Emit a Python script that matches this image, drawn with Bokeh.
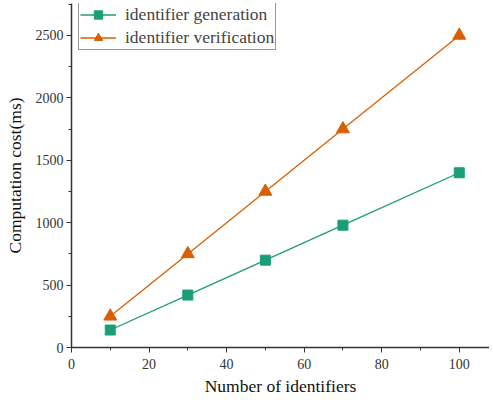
from bokeh.plotting import figure
from bokeh.models import SingleIntervalTicker, Range1d
from bokeh.embed import file_html
from bokeh.resources import INLINE

x_vals = [10, 30, 50, 70, 100]
gen_vals = [140, 420, 700, 980, 1400]
ver_vals = [250, 750, 1250, 1750, 2500]
gen_label = "identifier generation"
ver_label = "identifier verification"
x_title = "Number of identifiers"
y_title = "Computation cost(ms)"

GREEN = "#1b9e77"
ORANGE = "#d95f02"
FONT = "Liberation Serif"

FH = 344
p = figure(frame_width=418, frame_height=FH, output_backend="svg", toolbar_location=None,
           x_range=Range1d(0, 107.8), y_range=Range1d(0, 2756),
           min_border_left=71, min_border_bottom=50, min_border_top=3, min_border_right=0)
p.outline_line_color = None
p.grid.visible = False
p.background_fill_color = "white"

p.line(x_vals, gen_vals, color=GREEN, line_width=1.3, legend_label=gen_label)
p.scatter(x_vals, gen_vals, marker="square", size=10, color=GREEN, legend_label=gen_label)
p.line(x_vals, ver_vals, color=ORANGE, line_width=1.3, legend_label=ver_label)
p.scatter(x_vals, ver_vals, marker="triangle", size=13, color=ORANGE, legend_label=ver_label)

p.xaxis.ticker = SingleIntervalTicker(interval=20, num_minor_ticks=2)
p.yaxis.ticker = SingleIntervalTicker(interval=500, num_minor_ticks=2)
for ax in (p.xaxis[0], p.yaxis[0]):
    ax.axis_line_color = "#333333"
    ax.axis_line_width = 1.5
    ax.major_tick_line_color = "#333333"
    ax.minor_tick_line_color = "#333333"
    ax.major_tick_out = 5
    ax.major_tick_in = 0
    ax.minor_tick_out = 3
    ax.minor_tick_in = 0
    ax.major_label_text_font = FONT
    ax.major_label_text_font_size = "14px"
    ax.major_label_text_color = "#333333"
    ax.axis_label_text_font = FONT
    ax.axis_label_text_font_size = "17.5px"
    ax.axis_label_text_font_style = "normal"
    ax.axis_label_text_color = "#111111"
p.xaxis.axis_label = x_title
p.yaxis.axis_label = y_title
p.xaxis.major_label_standoff = 6
p.xaxis.axis_label_standoff = 4
p.yaxis.major_label_standoff = 3
p.yaxis.axis_label_standoff = 8

LH = 46
p.legend.location = (7, FH - LH - 1)
p.legend.margin = 0
p.legend.label_text_font = FONT
p.legend.label_text_font_size = "17.5px"
p.legend.border_line_color = "#333333"
p.legend.border_line_width = 1
p.legend.glyph_width = 36
p.legend.label_standoff = 9
p.legend.spacing = 2
p.legend.padding = 1
p.legend.label_height = 21
p.legend.glyph_height = 21

open("out.html", "w").write(file_html(p, INLINE))
